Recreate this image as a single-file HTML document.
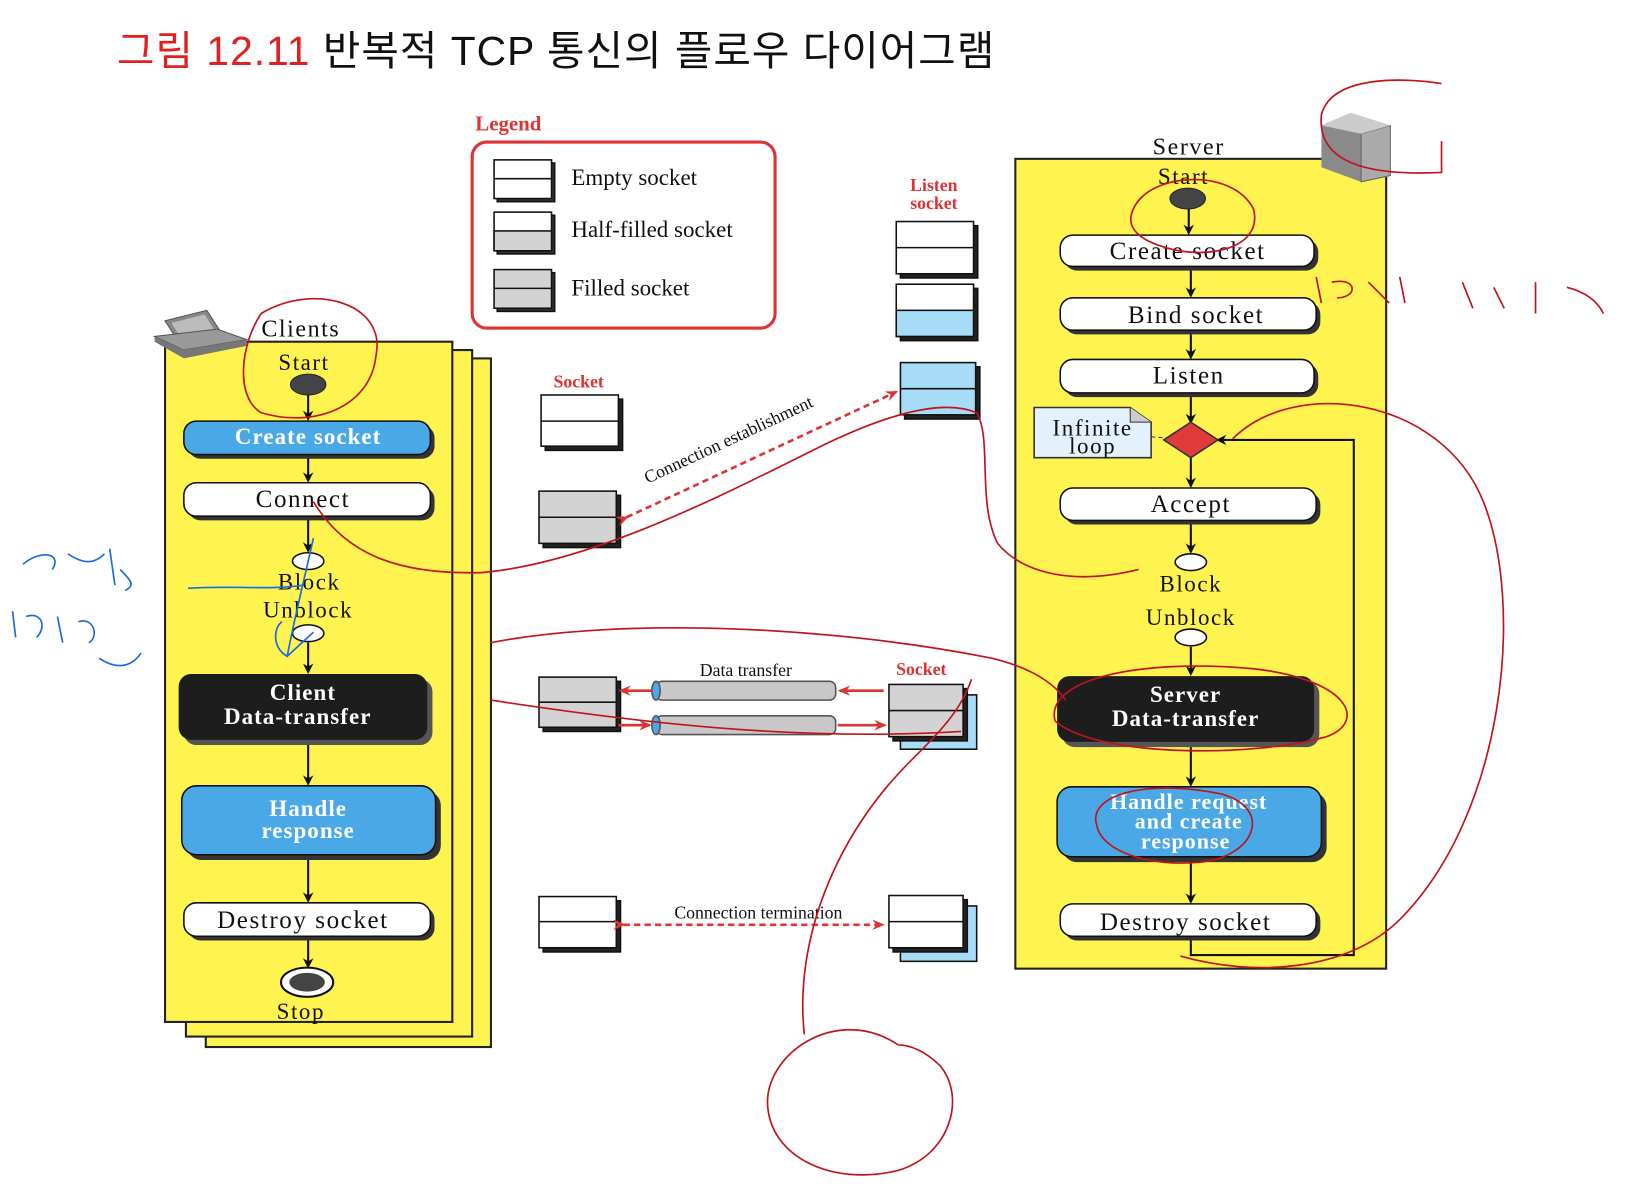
<!DOCTYPE html>
<html><head><meta charset="utf-8"><style>
html,body{margin:0;padding:0;background:#fff;width:1640px;height:1186px;overflow:hidden}
svg{display:block}
.t{font-family:"Liberation Serif",serif;fill:#111}
.n{font-family:"Liberation Serif",serif;fill:#111;letter-spacing:1.5px}
.b{font-family:"Liberation Serif",serif;font-weight:bold}
</style></head><body>
<svg width="1640" height="1186" viewBox="0 0 1570 1135" preserveAspectRatio="none" xmlns="http://www.w3.org/2000/svg">
<defs>
<marker id="ar" markerWidth="10" markerHeight="10" refX="8" refY="5" orient="auto" markerUnits="userSpaceOnUse"><path d="M0,0 L10,5 L0,10 L3,5z" fill="#111"/></marker>
<marker id="rr" markerWidth="12" markerHeight="10" refX="10" refY="5" orient="auto" markerUnits="userSpaceOnUse"><path d="M0,0 L12,5 L0,10 L4,5z" fill="#d33"/></marker>
</defs>
<text x="112" y="62" font-family="'Liberation Sans','Noto Sans CJK KR',sans-serif" font-size="39" letter-spacing="1" fill="#e02020">그림 12.11 <tspan fill="#111">반복적 TCP 통신의 플로우 다이어그램</tspan></text>

<text x="455" y="125" class="b" font-size="20" fill="#d33">Legend</text>
<rect x="452" y="136" width="290" height="178" rx="14" fill="none" stroke="#d33" stroke-width="3"/>
<g stroke="#111" stroke-width="1.5">
<rect x="476" y="156" width="55" height="37" fill="#333"/><rect x="473" y="153" width="55" height="37" fill="#fff"/><line x1="473" y1="171" x2="528" y2="171"/>
<rect x="476" y="206" width="55" height="37" fill="#333"/><rect x="473" y="203" width="55" height="37" fill="#fff"/><rect x="473" y="221" width="55" height="19" fill="#d3d3d3"/>
<rect x="476" y="261" width="55" height="37" fill="#333"/><rect x="473" y="258" width="55" height="37" fill="#d3d3d3"/><line x1="473" y1="276" x2="528" y2="276"/>
</g>
<text x="547" y="177" class="t" font-size="22">Empty socket</text>
<text x="547" y="227" class="t" font-size="22">Half-filled socket</text>
<text x="547" y="283" class="t" font-size="22">Filled socket</text>

<g stroke="#222" stroke-width="2" fill="#fff44f">
<rect x="197" y="343" width="273" height="659"/>
<rect x="178" y="335" width="274" height="657"/>
<rect x="158" y="327" width="275" height="651"/>
</g>
<g transform="translate(148,297)">
<path d="M10,10 L50,0 L68,28 L28,38z" fill="#888" stroke="#555"/><path d="M16,12 L48,4 L62,27 L30,34z" fill="#bbb"/>
<path d="M0,25 L28,38 L88,28 L60,18z" fill="#999" stroke="#555"/><path d="M0,25 L0,30 L28,46 L88,34 L88,28 L28,38z" fill="#777"/>
</g>
<text x="288" y="322" class="n" font-size="23" text-anchor="middle">Clients</text>
<text x="291" y="354" class="n" font-size="22" text-anchor="middle">Start</text>
<ellipse cx="295" cy="368" rx="17" ry="10" fill="#444" stroke="#222"/>
<g stroke="#111" stroke-width="2" fill="none" marker-end="url(#ar)">
<line x1="295" y1="378" x2="295" y2="401"/><line x1="295" y1="436" x2="295" y2="460"/><line x1="295" y1="495" x2="295" y2="527"/>
<line x1="295" y1="615" x2="295" y2="643"/><line x1="295" y1="710" x2="295" y2="750"/><line x1="295" y1="820" x2="295" y2="862"/><line x1="295" y1="897" x2="295" y2="925"/>
</g>
<rect x="180" y="407" width="236" height="32" rx="12" fill="#333"/><rect x="176" y="403" width="236" height="32" rx="12" fill="#4aa8e6" stroke="#111" stroke-width="1.5"/>
<text x="295" y="425" class="b" font-size="22" letter-spacing="1" fill="#fff" text-anchor="middle">Create socket</text>
<rect x="180" y="466" width="236" height="32" rx="12" fill="#333"/><rect x="176" y="462" width="236" height="32" rx="12" fill="#fff" stroke="#111" stroke-width="1.5"/>
<text x="290" y="485" class="n" font-size="24" text-anchor="middle">Connect</text>
<ellipse cx="295" cy="537" rx="15" ry="8" fill="#fff" stroke="#111" stroke-width="1.5"/>
<text x="296" y="564" class="n" font-size="22" text-anchor="middle">Block</text>
<text x="295" y="591" class="n" font-size="22" text-anchor="middle">Unblock</text>
<ellipse cx="295" cy="606" rx="15" ry="8" fill="#fff" stroke="#111" stroke-width="1.5"/>
<rect x="176" y="650" width="238" height="63" rx="12" fill="#555"/><rect x="171" y="645" width="238" height="63" rx="12" fill="#1d1d1d"/>
<text x="290" y="670" class="b" font-size="22" letter-spacing="1" fill="#fff" text-anchor="middle">Client</text>
<text x="285" y="693" class="b" font-size="22" letter-spacing="1" fill="#fff" text-anchor="middle">Data-transfer</text>
<rect x="179" y="757" width="243" height="66" rx="14" fill="#333"/><rect x="174" y="752" width="243" height="66" rx="14" fill="#4aa8e6" stroke="#111" stroke-width="1.5"/>
<text x="295" y="781" class="b" font-size="22" letter-spacing="1" fill="#fff" text-anchor="middle">Handle</text>
<text x="295" y="802" class="b" font-size="22" letter-spacing="1" fill="#fff" text-anchor="middle">response</text>
<rect x="180" y="868" width="236" height="32" rx="12" fill="#333"/><rect x="176" y="864" width="236" height="32" rx="12" fill="#fff" stroke="#111" stroke-width="1.5"/>
<text x="290" y="888" class="n" font-size="24" text-anchor="middle">Destroy socket</text>
<ellipse cx="294" cy="940" rx="25" ry="14" fill="#fff" stroke="#111" stroke-width="2"/><ellipse cx="294" cy="940" rx="17" ry="9" fill="#444"/>
<text x="288" y="975" class="n" font-size="22" text-anchor="middle">Stop</text>

<text x="554" y="371" class="b" font-size="17" fill="#d33" text-anchor="middle">Socket</text>
<text x="894" y="183" class="b" font-size="17" fill="#d33" text-anchor="middle">Listen</text>
<text x="894" y="200" class="b" font-size="17" fill="#d33" text-anchor="middle">socket</text>
<g stroke="#111" stroke-width="1.5">
<rect x="522" y="382" width="74" height="49" fill="#222"/><rect x="518" y="378" width="74" height="49" fill="#fff"/><line x1="518" y1="403" x2="592" y2="403"/>
<rect x="520" y="474" width="74" height="50" fill="#222"/><rect x="516" y="470" width="74" height="50" fill="#d3d3d3"/><line x1="516" y1="495" x2="590" y2="495"/>
<rect x="862" y="216" width="74" height="50" fill="#222"/><rect x="858" y="212" width="74" height="50" fill="#fff"/><line x1="858" y1="237" x2="932" y2="237"/>
<rect x="862" y="276" width="74" height="50" fill="#222"/><rect x="858" y="272" width="74" height="50" fill="#fff"/><rect x="858" y="297" width="74" height="25" fill="#a7dcf7"/>
<rect x="866" y="351" width="72" height="50" fill="#222"/><rect x="862" y="347" width="72" height="50" fill="#a7dcf7"/><line x1="862" y1="372" x2="934" y2="372"/>
<rect x="520" y="652" width="74" height="48" fill="#222"/><rect x="516" y="648" width="74" height="48" fill="#d3d3d3"/><line x1="516" y1="672" x2="590" y2="672"/>
<rect x="862" y="665" width="73" height="52" fill="#a7dcf7"/>
<rect x="855" y="659" width="71" height="50" fill="#222"/><rect x="851" y="655" width="71" height="50" fill="#d3d3d3"/><line x1="851" y1="680" x2="922" y2="680"/>
<rect x="520" y="862" width="74" height="49" fill="#222"/><rect x="516" y="858" width="74" height="49" fill="#fff"/><line x1="516" y1="882" x2="590" y2="882"/>
<rect x="862" y="867" width="73" height="53" fill="#a7dcf7"/>
<rect x="855" y="861" width="71" height="50" fill="#222"/><rect x="851" y="857" width="71" height="50" fill="#fff"/><line x1="851" y1="882" x2="922" y2="882"/>
</g>
<line x1="600" y1="495" x2="858" y2="375" stroke="#d33" stroke-width="2.5" stroke-dasharray="6,4" marker-end="url(#rr)" marker-start="url(#rr)"/>
<text x="0" y="0" class="t" font-size="17" transform="translate(620,463) rotate(-25)">Connection establishment</text>
<text x="714" y="647" class="t" font-size="17" text-anchor="middle">Data transfer</text>
<text x="882" y="646" class="b" font-size="17" fill="#d33" text-anchor="middle">Socket</text>
<g stroke="#555" stroke-width="1.5">
<rect x="628" y="652" width="172" height="18" rx="6" fill="#c8c8c8"/><ellipse cx="628" cy="661" rx="4" ry="9" fill="#4aa8e6"/>
<rect x="628" y="685" width="172" height="18" rx="6" fill="#c8c8c8"/><ellipse cx="628" cy="694" rx="4" ry="9" fill="#4aa8e6"/>
</g>
<g stroke="#d33" stroke-width="2.5" marker-end="url(#rr)">
<line x1="624" y1="661" x2="594" y2="661"/><line x1="846" y1="661" x2="804" y2="661"/>
<line x1="592" y1="694" x2="622" y2="694"/><line x1="802" y1="694" x2="847" y2="694"/>
</g>
<line x1="597" y1="885" x2="845" y2="885" stroke="#d33" stroke-width="2.5" stroke-dasharray="6,4" marker-end="url(#rr)" marker-start="url(#rr)"/>
<text x="726" y="879" class="t" font-size="17" text-anchor="middle">Connection termination</text>

<rect x="972" y="152" width="355" height="775" fill="#fff44f" stroke="#222" stroke-width="2"/>
<g transform="translate(1265,108)">
<path d="M0,12 L28,0 L66,12 L66,60 L38,66 L0,52z" fill="#8a8a8a"/><path d="M38,20 L66,12 L66,60 L38,66z" fill="#aaa" stroke="#666"/><path d="M0,12 L28,0 L66,12 L38,20z" fill="#ccc"/>
</g>
<text x="1138" y="148" class="n" font-size="23" text-anchor="middle">Server</text>
<text x="1133" y="176" class="n" font-size="22" text-anchor="middle">Start</text>
<ellipse cx="1137" cy="190" rx="17" ry="10" fill="#444" stroke="#222"/>
<g stroke="#111" stroke-width="2" fill="none" marker-end="url(#ar)">
<line x1="1138" y1="200" x2="1138" y2="223"/><line x1="1140" y1="256" x2="1140" y2="283"/><line x1="1140" y1="317" x2="1140" y2="342"/>
<line x1="1140" y1="377" x2="1140" y2="404"/><line x1="1140" y1="436" x2="1140" y2="465"/><line x1="1140" y1="499" x2="1140" y2="528"/>
<line x1="1140" y1="619" x2="1140" y2="645"/><line x1="1140" y1="711" x2="1140" y2="751"/><line x1="1140" y1="822" x2="1140" y2="863"/>
<polyline points="1140,898 1140,914 1296,914 1296,421 1166,421"/>
</g>
<rect x="1019" y="229" width="243" height="30" rx="12" fill="#333"/><rect x="1015" y="225" width="243" height="30" rx="12" fill="#fff" stroke="#111" stroke-width="1.5"/>
<text x="1137" y="248" class="n" font-size="24" text-anchor="middle">Create socket</text>
<rect x="1019" y="289" width="245" height="31" rx="12" fill="#333"/><rect x="1015" y="285" width="245" height="31" rx="12" fill="#fff" stroke="#111" stroke-width="1.5"/>
<text x="1145" y="309" class="n" font-size="24" text-anchor="middle">Bind socket</text>
<rect x="1019" y="348" width="243" height="32" rx="12" fill="#333"/><rect x="1015" y="344" width="243" height="32" rx="12" fill="#fff" stroke="#111" stroke-width="1.5"/>
<text x="1138" y="367" class="n" font-size="24" text-anchor="middle">Listen</text>
<path d="M990,390 L1082,390 L1102,404 L1102,438 L990,438z" fill="#e2f1fb" stroke="#333" stroke-width="1.5"/><path d="M1082,390 L1082,404 L1102,404" fill="#ccc" stroke="#333"/>
<text x="1046" y="417" class="n" font-size="22" text-anchor="middle">Infinite</text>
<text x="1046" y="434" class="n" font-size="22" text-anchor="middle">loop</text>
<line x1="1102" y1="418" x2="1128" y2="420" stroke="#333" stroke-dasharray="4,3"/>
<path d="M1140,404 L1166,421 L1140,438 L1114,421z" fill="#e03a3a" stroke="#333" stroke-width="1.5"/>
<rect x="1019" y="471" width="245" height="31" rx="12" fill="#333"/><rect x="1015" y="467" width="245" height="31" rx="12" fill="#fff" stroke="#111" stroke-width="1.5"/>
<text x="1140" y="490" class="n" font-size="24" text-anchor="middle">Accept</text>
<ellipse cx="1140" cy="538" rx="15" ry="8" fill="#fff" stroke="#111" stroke-width="1.5"/>
<text x="1140" y="566" class="n" font-size="22" text-anchor="middle">Block</text>
<text x="1140" y="598" class="n" font-size="22" text-anchor="middle">Unblock</text>
<ellipse cx="1140" cy="610" rx="15" ry="8" fill="#fff" stroke="#111" stroke-width="1.5"/>
<rect x="1017" y="652" width="246" height="63" rx="12" fill="#555"/><rect x="1012" y="647" width="246" height="63" rx="12" fill="#1d1d1d"/>
<text x="1135" y="672" class="b" font-size="22" letter-spacing="1" fill="#fff" text-anchor="middle">Server</text>
<text x="1135" y="695" class="b" font-size="22" letter-spacing="1" fill="#fff" text-anchor="middle">Data-transfer</text>
<rect x="1017" y="758" width="253" height="67" rx="14" fill="#333"/><rect x="1012" y="753" width="253" height="67" rx="14" fill="#4aa8e6" stroke="#111" stroke-width="1.5"/>
<text x="1138" y="774" class="b" font-size="21" letter-spacing="1" fill="#fff" text-anchor="middle">Handle request</text>
<text x="1138" y="793" class="b" font-size="21" letter-spacing="1" fill="#fff" text-anchor="middle">and create</text>
<text x="1135" y="812" class="b" font-size="21" letter-spacing="1" fill="#fff" text-anchor="middle">response</text>
<rect x="1019" y="869" width="245" height="31" rx="12" fill="#333"/><rect x="1015" y="865" width="245" height="31" rx="12" fill="#fff" stroke="#111" stroke-width="1.5"/>
<text x="1135" y="890" class="n" font-size="24" text-anchor="middle">Destroy socket</text>

<g fill="none" stroke="#c0141c" stroke-width="1.6">
<path d="M250,300 C300,270 370,290 360,340 C355,390 300,410 250,395 C225,380 230,330 250,300"/>
<path d="M1085,200 C1100,165 1180,160 1200,200 C1210,240 1150,250 1110,235 C1080,225 1080,210 1085,200"/>
<path d="M1265,110 C1275,70 1350,75 1380,80 M1265,110 C1262,140 1280,170 1380,165 L1380,135"/>
<path d="M1180,420 C1240,360 1380,380 1420,480 C1460,580 1440,780 1340,880 C1290,930 1200,935 1130,915"/>
<path d="M1010,690 C1000,650 1090,630 1200,640 C1290,650 1310,690 1270,705 C1200,725 1050,725 1010,690"/>
<path d="M1050,790 C1040,760 1100,745 1170,760 C1220,775 1200,820 1150,825 C1100,830 1055,815 1050,790"/>
<path d="M860,1000 C800,960 730,1010 735,1060 C740,1110 800,1135 860,1120 C910,1105 925,1050 900,1020 C885,1005 870,1000 860,1000"/>
<path d="M770,990 C760,900 800,800 870,730 C900,700 920,680 930,650"/>
<path d="M300,480 C330,530 380,550 460,548 C560,540 680,480 780,430 C840,400 900,380 935,395 C950,420 935,480 955,520 C980,550 1030,560 1090,545"/>
<path d="M470,615 C600,590 800,600 950,630 C990,640 1010,655 1020,670"/>
<path d="M470,670 C600,690 760,710 920,700"/>
<path d="M1260,265 L1265,290 M1275,270 C1300,265 1300,285 1280,285 M1310,270 L1330,290 M1340,265 L1345,290"/>
<path d="M1400,270 L1410,295 M1430,275 L1440,295 M1470,270 L1470,300 M1500,275 C1520,280 1530,290 1535,300"/>
</g>
<g fill="none" stroke="#1a6be0" stroke-width="1.6">
<path d="M180,563 C220,560 260,565 290,560 M300,515 C290,560 280,600 275,628 C260,620 262,600 270,595 M275,628 L300,605"/>
<path d="M22,540 C40,525 60,530 50,545 M65,530 C80,540 90,540 100,530 M105,525 L110,560 M115,545 C125,555 130,560 120,565"/>
<path d="M12,585 L15,610 M25,590 C40,585 45,600 35,610 M55,590 L60,615 M75,595 C90,590 95,610 85,615 M95,630 C110,640 125,640 135,625"/>
</g>
</svg>
</body></html>
